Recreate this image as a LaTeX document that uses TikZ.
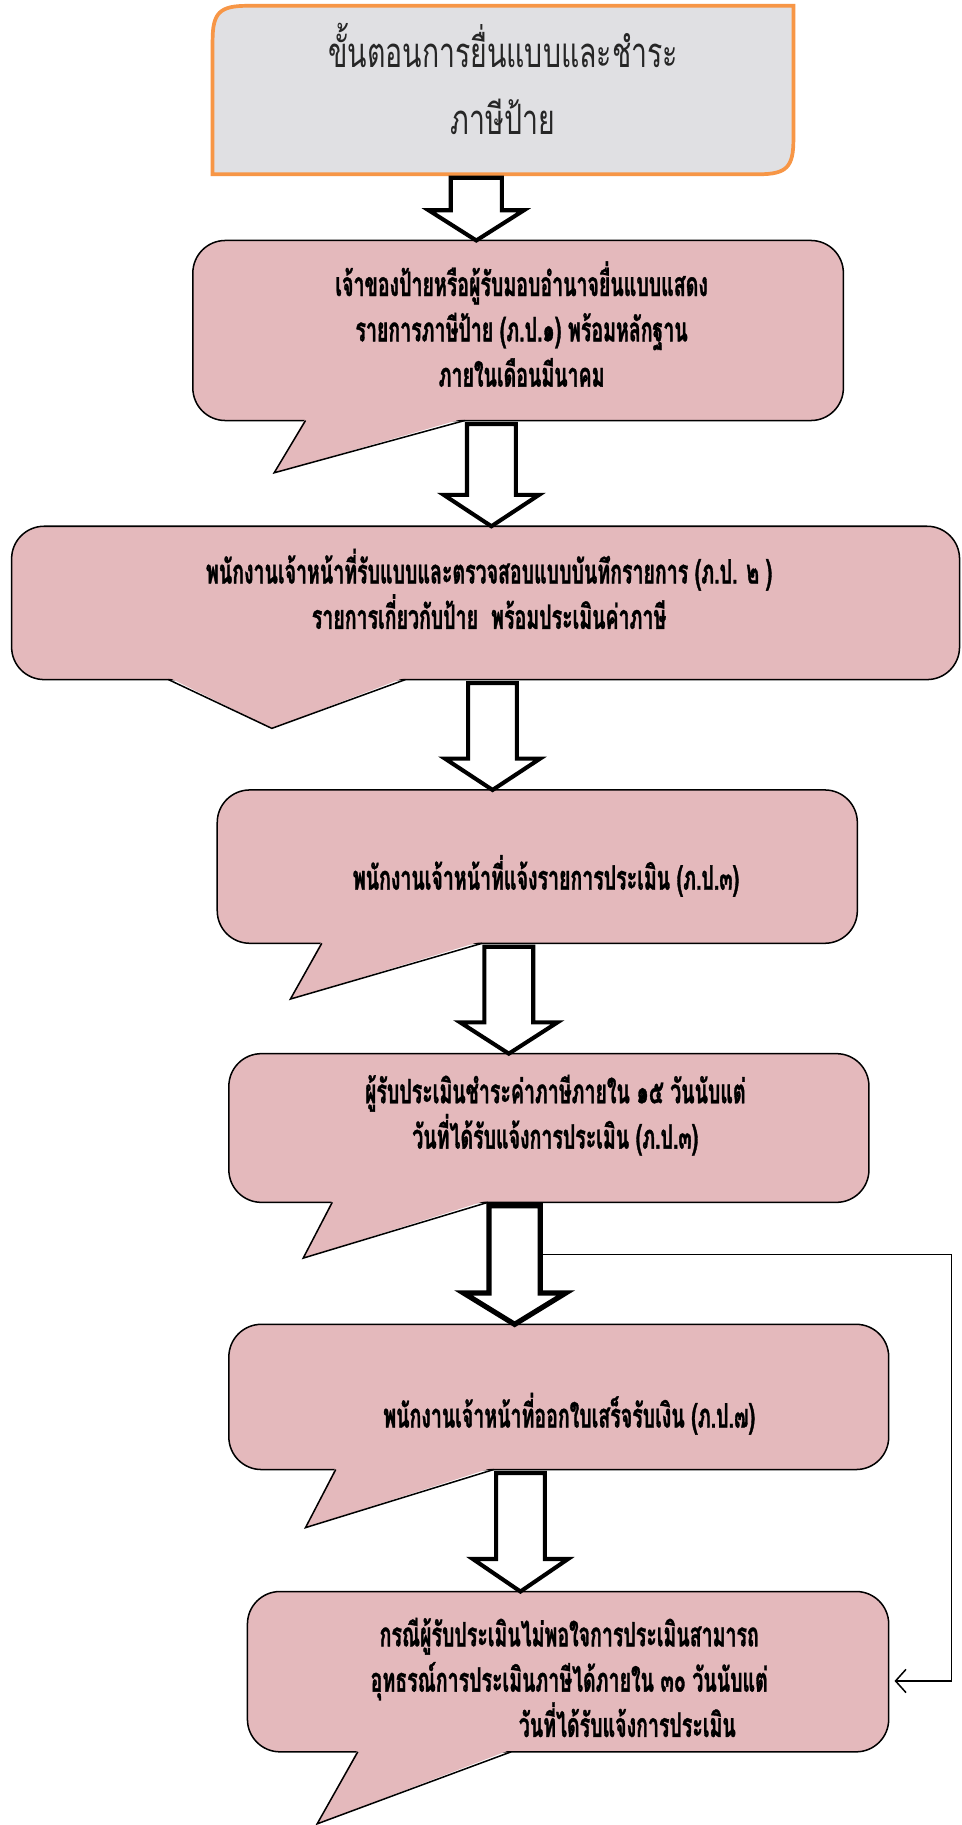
\documentclass[tikz,border=0pt]{standalone}
\usepackage{fontspec}
\newfontfamily\thaibody[Script=Thai,FakeStretch=0.58,BoldFeatures={FakeBold=1}]{Loma}
\newfontfamily\thaititle[Script=Thai,FakeStretch=0.68]{Loma}
\usetikzlibrary{arrows.meta,calc}
\definecolor{pinkfill}{RGB}{228,185,188}
\definecolor{marble}{RGB}{224,224,227}
\definecolor{orangeline}{RGB}{247,150,70}
\tikzset{
 cbox/.style={draw=black, line width=1.3pt, fill=pinkfill, rounded corners=28pt, inner sep=0pt, outer sep=0pt},
 ctext/.style={font=\thaibody\bfseries\fontsize{29}{39}\selectfont, align=center, inner sep=0pt},
 ttext/.style={font=\thaititle\fontsize{36}{58}\selectfont, align=center, inner sep=0pt, text=black!85},
 tboxline/.style={draw=orangeline, line width=3.2pt, fill=marble},
 barrow/.style={draw=black, line width=3.5pt, fill=white, line join=miter, miter limit=10},
 tailline/.style={draw=black, line width=1.3pt, line join=miter},
 conn/.style={draw=black, line width=1.3pt, -{Straight Barb[length=9pt,width=20pt,line width=1.3pt]}},
}
\newcommand\ptail[4]{%
 \path let \p1=(#1.south) in coordinate (#1L) at (#2pt,\y1) coordinate (#1R) at (#4pt,\y1);
 \fill[pinkfill] ($(#1L)+(0,-2)$) -- (#3) -- ($(#1R)+(0,-2)$) -- cycle;
 \draw[tailline] (#1L) -- (#3) -- (#1R);
}
\newcommand\blockarrow[7]{%
 \draw[barrow,#7] let \p1=(#1.south), \p2=(#2.north) in
  ({(#3-#4)*1pt},{\y1-3pt}) -- ({(#3-#4)*1pt},{\y2+#6pt}) -- ({(#3-#5)*1pt},{\y2+#6pt}) -- ({#3*1pt},\y2)
  -- ({(#3+#5)*1pt},{\y2+#6pt}) -- ({(#3+#4)*1pt},{\y2+#6pt}) -- ({(#3+#4)*1pt},{\y1-3pt}) -- cycle;
}
\begin{document}
\begin{tikzpicture}[x=1pt,y=-1pt]
\fill[white] (0,0) rectangle (828,1571);
\useasboundingbox (0,0) rectangle (828,1571);

% title
\node[minimum width=500pt, minimum height=145pt, inner sep=0pt, outer sep=0pt] (title) at (433,77.5) {};
\draw[tboxline] ($(title.north west)+(0,30)$) .. controls ($(title.north west)+(0,6)$) and ($(title.north west)+(6,0)$) .. ($(title.north west)+(30,0)$)
  -- (title.north east) -- ($(title.south east)+(0,-30)$) .. controls ($(title.south east)+(0,-6)$) and ($(title.south east)+(-6,0)$) .. ($(title.south east)+(-30,0)$)
  -- (title.south west) -- cycle;
\node[ttext] (ttl) at (433,68) {ขั้นตอนการยื่นแบบและชำระ\\ภาษีป้าย};

% callouts
\node[cbox, minimum width=560pt, minimum height=155pt] (c1) at (446,284.5) {};
\ptail{c1}{263}{236,407}{400}
\node[cbox, minimum width=816pt, minimum height=132pt] (c2) at (418,519) {};
\ptail{c2}{145}{234,627}{349}
\node[cbox, minimum width=551pt, minimum height=132pt] (c3) at (462.5,746) {};
\ptail{c3}{277}{250,860}{415}
\node[cbox, minimum width=551pt, minimum height=128pt] (c4) at (472.5,971) {};
\ptail{c4}{286}{261,1083}{420}
\node[cbox, minimum width=568pt, minimum height=125pt] (c5) at (481,1202.5) {};
\ptail{c5}{289}{263,1315}{425}
\node[cbox, minimum width=552pt, minimum height=138pt] (c6) at (489,1439) {};
\ptail{c6}{308}{273,1570}{440}

% texts
\node[ctext] (t1) at (449,279) {เจ้าของป้ายหรือผู้รับมอบอำนาจยื่นแบบแสดง\\รายการภาษีป้าย (ภ.ป.๑) พร้อมหลักฐาน\\ภายในเดือนมีนาคม};
\node[ctext] (t2) at (421,507) {พนักงานเจ้าหน้าที่รับแบบและตรวจสอบแบบบันทึกรายการ (ภ.ป. ๒ )\\รายการเกี่ยวกับป้าย\ \ พร้อมประเมินค่าภาษี};
\node[ctext] (t3) at (470,754) {พนักงานเจ้าหน้าที่แจ้งรายการประเมิน (ภ.ป.๓)};
\node[ctext] (t4) at (478,960) {ผู้รับประเมินชำระค่าภาษีภายใน ๑๕ วันนับแต่\\วันที่ได้รับแจ้งการประเมิน (ภ.ป.๓)};
\node[ctext] (t5) at (490,1217) {พนักงานเจ้าหน้าที่ออกใบเสร็จรับเงิน (ภ.ป.๗)};
\node[ctext] (t6) at (490,1444) {กรณีผู้รับประเมินไม่พอใจการประเมินสามารถ\\อุทธรณ์การประเมินภาษีได้ภายใน ๓๐ วันนับแต่\\\hspace*{100pt}วันที่ได้รับแจ้งการประเมิน};

% block arrows
\blockarrow{title}{c1}{410}{22}{41}{26}{}
\blockarrow{c1}{c2}{423}{21}{41}{27}{}
\blockarrow{c2}{c3}{424}{21}{41}{27}{}
\blockarrow{c3}{c4}{438}{21}{42}{27}{}
\blockarrow{c4}{c5}{443}{22}{44}{27}{line width=4.5pt}
\blockarrow{c5}{c6}{448}{21}{41}{28}{}

% feedback connector
\coordinate (a5x) at (443,0);
\coordinate (fbstart) at ($(c4.south -| a5x)+(24,45)$);
\coordinate (fbcorner) at (819,1447);
\draw[conn] (fbstart) -| (fbcorner) -- ($(c6.east |- fbcorner)+(5,0)$);
\end{tikzpicture}
\end{document}
